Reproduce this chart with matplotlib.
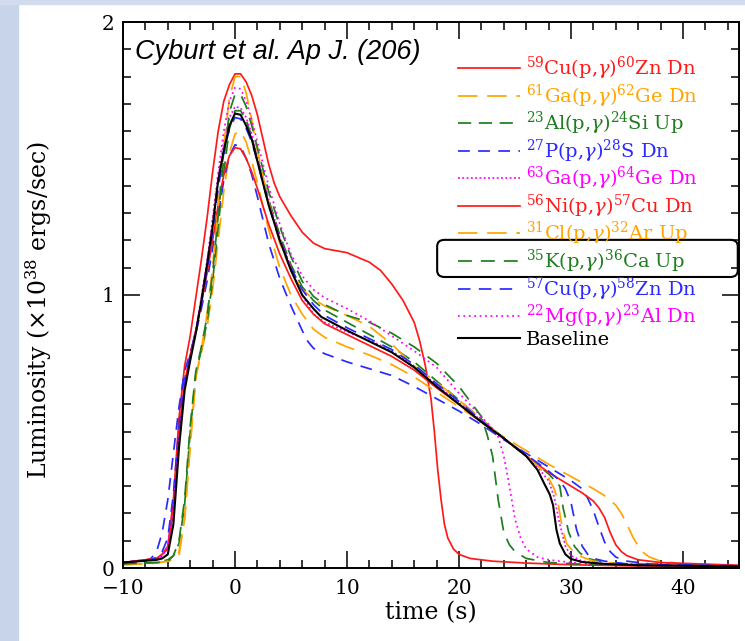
import matplotlib
matplotlib.use('Agg')
import matplotlib.pyplot as plt
from matplotlib import rcParams
from matplotlib.patches import Rectangle, FancyBboxPatch
from matplotlib.ticker import MultipleLocator

# luminosity curves, time in s, L in 1e38 erg/s
t_cu59 = [-10, -7, -6.5, -6, -5.5, -5, -4.5, -4, -3.5, -3, -2.5, -2, -1.5, -1, -0.5, 0, 0.5, 1, 1.5, 2,
          2.5, 3, 3.5, 4, 5, 6, 7, 8, 10, 12, 13, 14, 15, 16, 16.5, 17, 17.5, 17.8, 18.1, 18.4,
          18.7, 19, 19.5, 20, 21, 23, 26, 30, 35, 45]
L_cu59 = [0.02, 0.035, 0.05, 0.08, 0.25, 0.55, 0.74, 0.85, 0.99, 1.13, 1.28, 1.45, 1.6, 1.71, 1.77, 1.81, 1.81, 1.78, 1.73, 1.66,
          1.57, 1.48, 1.41, 1.36, 1.29, 1.23, 1.19, 1.17, 1.155, 1.12, 1.09, 1.04, 0.98, 0.9, 0.83, 0.74, 0.62, 0.5, 0.36, 0.25,
          0.16, 0.11, 0.07, 0.05, 0.035, 0.025, 0.018, 0.012, 0.008, 0.005]

t_ga61 = [-10, -7, -6, -5.5, -5, -4.5, -4, -3.5, -3, -2.5, -2, -1.5, -1, -0.5, 0, 0.5, 1, 1.5, 2, 3,
          4, 5, 6, 7, 8, 10, 12, 14, 16, 18, 20, 22, 24, 26, 28, 30, 32, 33, 34, 34.5,
          35, 35.5, 36, 36.5, 37, 38, 40, 45]
L_ga61 = [0.012, 0.018, 0.025, 0.03, 0.045, 0.18, 0.46, 0.7, 0.79, 0.88, 1.02, 1.2, 1.38, 1.52, 1.59, 1.6, 1.56, 1.49, 1.41, 1.24,
          1.1, 1.0, 0.93, 0.875, 0.845, 0.81, 0.78, 0.745, 0.7, 0.645, 0.59, 0.535, 0.48, 0.43, 0.38, 0.335, 0.29, 0.265, 0.23, 0.2,
          0.16, 0.115, 0.08, 0.055, 0.04, 0.025, 0.015, 0.008]

t_al23 = [-10, -7, -6, -5.5, -5, -4.5, -4, -3.5, -3, -2.5, -2, -1.5, -1, -0.5, 0, 0.5, 1, 1.5, 2, 3,
          4, 5, 6, 7, 8, 10, 12, 14, 16, 18, 20, 22, 24, 26, 28, 29, 29.3, 29.8, 30.3, 30.8,
          31.5, 33, 36, 45]
L_al23 = [0.015, 0.02, 0.03, 0.045, 0.09, 0.23, 0.5, 0.71, 0.8, 0.9, 1.05, 1.25, 1.45, 1.61, 1.675, 1.675, 1.64, 1.58, 1.5, 1.35,
          1.22, 1.11, 1.03, 0.98, 0.945, 0.9, 0.855, 0.81, 0.755, 0.685, 0.615, 0.545, 0.475, 0.41, 0.345, 0.3, 0.22, 0.13, 0.08, 0.055,
          0.035, 0.02, 0.012, 0.006]

t_p27 = [-10, -8, -7.5, -7, -6.5, -6, -5.5, -5, -4.5, -4, -3.5, -3, -2.5, -2, -1.5, -1, -0.5, 0, 0.5, 1,
         1.5, 2, 3, 4, 5, 6, 6.5, 7, 8, 10, 12, 14, 16, 18, 20, 22, 24, 26, 28, 30,
         31, 31.5, 32, 32.5, 33, 33.5, 34, 35, 37, 45]
L_p27 = [0.02, 0.025, 0.035, 0.06, 0.13, 0.25, 0.42, 0.59, 0.72, 0.79, 0.86, 0.95, 1.05, 1.17, 1.3, 1.42, 1.51, 1.55, 1.545, 1.5,
         1.44, 1.36, 1.19, 1.06, 0.96, 0.87, 0.83, 0.805, 0.785, 0.755, 0.73, 0.705, 0.665, 0.62, 0.575, 0.525, 0.47, 0.42, 0.37, 0.32,
         0.29, 0.255, 0.21, 0.15, 0.095, 0.06, 0.04, 0.025, 0.015, 0.008]

t_ga63 = [-10, -7, -6.5, -6, -5.5, -5, -4.5, -4, -3.5, -3, -2.5, -2, -1.5, -1, -0.5, 0, 0.5, 1, 1.5, 2,
          3, 4, 5, 6, 7, 8, 10, 12, 14, 16, 18, 20, 22, 24, 26, 27, 28, 28.5, 29, 29.5,
          30, 31, 33, 45]
L_ga63 = [0.02, 0.03, 0.045, 0.075, 0.2, 0.46, 0.66, 0.77, 0.87, 0.99, 1.12, 1.27, 1.43, 1.56, 1.65, 1.69, 1.685, 1.65, 1.59, 1.51,
          1.35, 1.21, 1.1, 1.0, 0.93, 0.9, 0.865, 0.835, 0.795, 0.74, 0.67, 0.605, 0.54, 0.475, 0.41, 0.37, 0.32, 0.26, 0.16, 0.08,
          0.045, 0.025, 0.015, 0.006]

t_ni56 = [-10, -7, -6.5, -6, -5.5, -5, -4.5, -4, -3.5, -3, -2.5, -2, -1.5, -1, -0.5, 0, 0.5, 1, 1.5, 2,
          3, 4, 5, 6, 7, 8, 10, 12, 14, 16, 18, 20, 22, 24, 26, 28, 30, 31, 32, 32.5,
          33, 33.5, 34, 34.5, 35, 36, 38, 45]
L_ni56 = [0.02, 0.035, 0.05, 0.07, 0.22, 0.5, 0.68, 0.78, 0.87, 0.97, 1.08, 1.2, 1.33, 1.44, 1.51, 1.54, 1.535, 1.5, 1.45, 1.39,
          1.26, 1.15, 1.06, 0.98, 0.93, 0.895, 0.855, 0.815, 0.775, 0.725, 0.66, 0.6, 0.535, 0.475, 0.41, 0.35, 0.3, 0.275, 0.245, 0.22,
          0.185, 0.13, 0.085, 0.06, 0.045, 0.03, 0.02, 0.01]

t_cl31 = [-10, -7, -6, -5.5, -5, -4.5, -4, -3.5, -3, -2.5, -2, -1.5, -1, -0.5, 0, 0.5, 1, 1.5, 2, 3,
          4, 5, 6, 7, 8, 10, 12, 14, 16, 18, 20, 22, 24, 26, 27, 28, 28.5, 28.8, 29.2, 29.6,
          30.2, 31, 32, 35, 45]
L_cl31 = [0.012, 0.018, 0.025, 0.035, 0.06, 0.18, 0.44, 0.7, 0.8, 0.93, 1.1, 1.32, 1.55, 1.72, 1.8, 1.8, 1.74, 1.64, 1.53, 1.34,
          1.19, 1.09, 1.02, 0.985, 0.96, 0.925, 0.885, 0.82, 0.74, 0.68, 0.615, 0.545, 0.475, 0.41, 0.375, 0.33, 0.29, 0.25, 0.15, 0.09,
          0.06, 0.04, 0.025, 0.012, 0.006]

t_k35 = [-10, -7, -6, -5.5, -5, -4.5, -4, -3.5, -3, -2.5, -2, -1.5, -1, -0.5, 0, 0.5, 1, 1.5, 2, 3,
         4, 5, 6, 7, 8, 10, 12, 14, 16, 18, 20, 21, 22, 22.5, 23, 23.5, 24, 24.5, 25, 26,
         28, 32, 45]
L_k35 = [0.015, 0.02, 0.025, 0.045, 0.1, 0.25, 0.52, 0.72, 0.81, 0.92, 1.08, 1.29, 1.5, 1.67, 1.735, 1.735, 1.69, 1.62, 1.54, 1.38,
         1.25, 1.14, 1.05, 0.995, 0.965, 0.925, 0.9, 0.86, 0.81, 0.75, 0.665, 0.61, 0.555, 0.49, 0.41, 0.25, 0.13, 0.085, 0.06, 0.035,
         0.02, 0.012, 0.006]

t_cu57 = [-10, -7.5, -7, -6.5, -6, -5.5, -5, -4.5, -4, -3.5, -3, -2.5, -2, -1.5, -1, -0.5, 0, 0.5, 1, 1.5,
          2, 3, 4, 5, 6, 7, 8, 10, 12, 14, 16, 18, 20, 22, 24, 26, 28, 29, 29.5, 30,
          30.5, 31, 31.5, 32, 33, 35, 45]
L_cu57 = [0.02, 0.03, 0.04, 0.06, 0.11, 0.27, 0.52, 0.69, 0.78, 0.87, 0.97, 1.09, 1.23, 1.39, 1.52, 1.61, 1.65, 1.645, 1.61, 1.56,
          1.49, 1.33, 1.2, 1.1, 1.02, 0.965, 0.925, 0.88, 0.84, 0.8, 0.745, 0.675, 0.61, 0.54, 0.475, 0.415, 0.355, 0.32, 0.29, 0.24,
          0.14, 0.08, 0.05, 0.035, 0.025, 0.015, 0.008]

t_mg22 = [-10, -7, -6.5, -6, -5.5, -5, -4.5, -4, -3.5, -3, -2.5, -2, -1.5, -1, -0.5, 0, 0.5, 1, 1.5, 2,
          3, 4, 5, 6, 7, 8, 10, 12, 14, 16, 18, 20, 22, 23, 23.5, 24, 24.5, 25, 25.5, 26,
          27, 28, 30, 35, 45]
L_mg22 = [0.02, 0.03, 0.045, 0.08, 0.22, 0.48, 0.67, 0.77, 0.87, 0.99, 1.12, 1.28, 1.45, 1.6, 1.71, 1.76, 1.755, 1.71, 1.64, 1.56,
          1.4, 1.26, 1.15, 1.07, 1.02, 0.99, 0.95, 0.905, 0.85, 0.795, 0.735, 0.64, 0.555, 0.51, 0.48, 0.41, 0.3, 0.18, 0.11, 0.07,
          0.04, 0.03, 0.02, 0.01, 0.006]

t_base = [-10, -7, -6.5, -6, -5.5, -5, -4.5, -4, -3.5, -3, -2.5, -2, -1.5, -1, -0.5, 0, 0.5, 1, 1.5, 2,
          3, 4, 5, 6, 7, 7.7, 10, 12, 14, 16, 18, 20, 22, 24, 26, 27, 27.6, 28.1, 28.4, 28.7,
          29, 29.5, 30, 31, 33, 36, 45]
L_base = [0.02, 0.03, 0.035, 0.05, 0.16, 0.44, 0.65, 0.76, 0.86, 0.98, 1.11, 1.25, 1.42, 1.53, 1.62, 1.665, 1.66, 1.62, 1.57, 1.49,
          1.33, 1.2, 1.09, 1.0, 0.95, 0.92, 0.87, 0.83, 0.79, 0.735, 0.665, 0.6, 0.535, 0.475, 0.41, 0.36, 0.31, 0.27, 0.23, 0.14,
          0.09, 0.05, 0.033, 0.022, 0.015, 0.01, 0.006]

labels = [r'$^{59}$Cu(p,$\gamma$)$^{60}$Zn Dn', r'$^{61}$Ga(p,$\gamma$)$^{62}$Ge Dn',
          r'$^{23}$Al(p,$\gamma$)$^{24}$Si Up', r'$^{27}$P(p,$\gamma$)$^{28}$S Dn',
          r'$^{63}$Ga(p,$\gamma$)$^{64}$Ge Dn', r'$^{56}$Ni(p,$\gamma$)$^{57}$Cu Dn',
          r'$^{31}$Cl(p,$\gamma$)$^{32}$Ar Up', r'$^{35}$K(p,$\gamma$)$^{36}$Ca Up',
          r'$^{57}$Cu(p,$\gamma$)$^{58}$Zn Dn', r'$^{22}$Mg(p,$\gamma$)$^{23}$Al Dn',
          'Baseline']

series = [(t_cu59, L_cu59), (t_ga61, L_ga61), (t_al23, L_al23), (t_p27, L_p27),
          (t_ga63, L_ga63), (t_ni56, L_ni56), (t_cl31, L_cl31), (t_k35, L_k35),
          (t_cu57, L_cu57), (t_mg22, L_mg22), (t_base, L_base)]

red, orange, green, blue, mag = '#ff1a1a', '#ffa500', '#1e7d1e', '#2a2aff', '#ff00ff'
styles = [(red, None, 1.25), (orange, (14, 7), 1.25), (green, (9.5, 5.5), 1.25), (blue, (8.5, 6), 1.25),
          (mag, (1.3, 1.8), 1.25), (red, None, 1.25), (orange, (14, 7), 1.25), (green, (10, 6.5), 1.25),
          (blue, (9, 6), 1.25), (mag, (1.3, 2.6), 1.25), ('black', None, 1.5)]

rcParams.update({
    'font.family': ['DejaVu Serif'],
    'mathtext.fontset': 'dejavuserif',
    'lines.scale_dashes': False,
    'axes.linewidth': 1.4,
})

fig = plt.figure(figsize=(7.45, 6.41), dpi=100)
fig.patches.append(Rectangle((0, 0), 18 / 745., 1, transform=fig.transFigure, color='#c8d4ea', zorder=0))
fig.patches.append(Rectangle((0, 1 - 4 / 641.), 1, 4 / 641., transform=fig.transFigure, color='#d3dcef', zorder=0))

ax = fig.add_axes([123 / 745., 1 - 568 / 641., 616 / 745., 546 / 641.])

for (t, L), lab, (c, d, lw) in zip(series, labels, styles):
    line, = ax.plot(t, L, color=c, lw=lw, label=lab)
    if d is not None:
        line.set_dashes(d)

ax.set_xlim(-10, 45)
ax.set_ylim(0, 2)
ax.xaxis.set_major_locator(MultipleLocator(10))
ax.xaxis.set_minor_locator(MultipleLocator(2))
ax.yaxis.set_major_locator(MultipleLocator(1))
ax.yaxis.set_minor_locator(MultipleLocator(0.1))
ax.tick_params(which='both', direction='in', top=True, right=True, width=1.1, labelsize=14.5)
ax.tick_params(which='major', length=12)
ax.tick_params(which='minor', length=6)
ax.tick_params(axis='x', pad=8)
ax.tick_params(axis='y', pad=6)

ax.set_xlabel('time (s)', fontsize=17)
ax.xaxis.set_label_coords(0.5, -0.06)
ax.set_ylabel(r'Luminosity ($\times 10^{38}$ ergs/sec)', fontsize=17)
ax.yaxis.set_label_coords(-0.112, 0.473)

ax.text(0.02, 0.945, 'Cyburt et al. Ap J. (206)', transform=ax.transAxes, fontsize=19.5,
        family='Liberation Sans', style='italic', va='center', ha='left')

leg = ax.legend(loc='upper left', bbox_to_anchor=(0.544, 0.94), frameon=False, fontsize=14,
                handlelength=3.2, handletextpad=0.3, labelspacing=0.02, borderpad=0, borderaxespad=0,
                labelcolor='linecolor')

# highlight box around the 35K entry
box = FancyBboxPatch((0.51, 0.533), 0.488, 0.068, boxstyle='round,pad=0,rounding_size=0.012',
                     transform=ax.transAxes, fill=False, ec='black', lw=1.5, clip_on=False, zorder=5)
ax.add_patch(box)

plt.savefig('out.png', dpi=100)
